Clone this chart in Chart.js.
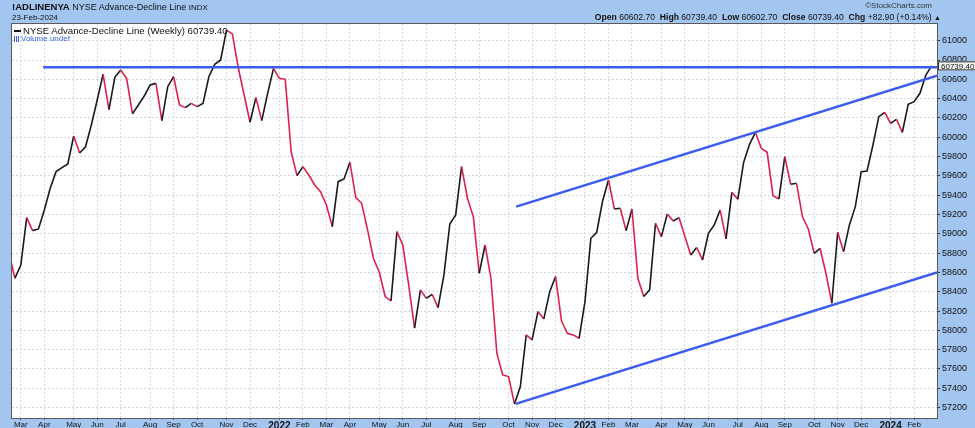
<!DOCTYPE html>
<html>
<head>
<meta charset="utf-8">
<title>NYSE Advance-Decline Line</title>
<script src="https://cdn.jsdelivr.net/npm/chart.js@4.4.1/dist/chart.umd.min.js"></script>
<style>
    body { margin: 0; background: #a3c6f0; }
    #wrap { position: relative; width: 975px; height: 428px; background: #a3c6f0; overflow: hidden;
            font-family: 'Liberation Sans', Arial, sans-serif; color: #111; }
    #chart { position: absolute; left: 0; top: 0; }
    .txt { position: absolute; white-space: nowrap; line-height: 1; }
    .sym { font-weight: bold; font-size: 9.5px; }
    .b { font-weight: bold; }
    .dash { display: inline-block; width: 7px; height: 2px; background: #111; vertical-align: middle; margin-right: 2px; }
    .vol { color: #2f62e8; font-size: 8px; }
    .bars { display: inline-block; width: 6px; height: 6px; margin-right: 1px; vertical-align: -1px;
            background: linear-gradient(90deg, #2f62e8 0 1px, transparent 1px 2px, #2f62e8 2px 3px, transparent 3px 4px, #2f62e8 4px 5px, transparent 5px); }
</style>
</head>
<body>
<div id="wrap">
    <canvas id="chart" width="975" height="428"></canvas>
    <div class="txt" style="left:12px;top:2px;font-size:9px;"><span class="sym">!ADLINENYA</span> NYSE Advance-Decline Line <span style="font-size:8px">INDX</span></div>
    <div class="txt" style="left:12px;top:14px;font-size:8px;">23-Feb-2024</div>
    <div class="txt" style="right:43px;top:2px;font-size:8px;color:#333;">©StockCharts.com</div>
    <div class="txt" style="right:34px;top:13px;font-size:8.6px;"><span class="b">Open</span> 60602.70 &nbsp;<span class="b">High</span> 60739.40 &nbsp;<span class="b">Low</span> 60602.70 &nbsp;<span class="b">Close</span> 60739.40 &nbsp;<span class="b">Chg</span> +82.90 (+0.14%) <span style="font-size:7px">▲</span></div>
    <div class="txt" style="left:14px;top:26px;font-size:9.6px;"><span class="dash"></span>NYSE Advance-Decline Line (Weekly) 60739.40</div>
    <div class="txt vol" style="left:14px;top:35px;"><span class="bars"></span>Volume undef</div>
</div>

<script>
// Données hebdomadaires (clôture du vendredi), première semaine = 19 fév 2021
const firstWeek = Date.UTC(2021, 1, 19);
const adLine = [
    58800, 58539, 58677, 59168, 59033, 59050, 59247, 59471, 59644, 59685,
    59723, 60013, 59837, 59899, 60127, 60386, 60652, 60286, 60621, 60697,
    60610, 60244, 60334, 60427, 60541, 60558, 60172, 60524, 60627, 60334,
    60307, 60351, 60317, 60351, 60627, 60755, 60800, 61110, 61070, 60720,
    60440, 60155, 60410, 60172, 60455, 60714, 60610, 60600, 59851, 59602,
    59696, 59609, 59506, 59437, 59299, 59074, 59540, 59568, 59740, 59375,
    59316, 59040, 58747, 58602, 58350, 58305, 59023, 58884, 58470, 58022,
    58419, 58332, 58374, 58236, 58574, 59102, 59195, 59696, 59368, 59178,
    58591, 58884, 58539, 57763, 57538, 57521, 57238, 57418, 57953, 57901,
    58194, 58118, 58401, 58557, 58098, 57970, 57953, 57918, 58298, 58954,
    59016, 59340, 59558, 59257, 59264, 59033, 59257, 58539, 58350, 58419,
    59109, 58971, 59205, 59133, 59168, 58971, 58781, 58857, 58729, 59005,
    59092, 59247, 58947, 59430, 59357, 59740, 59927, 60051, 59885, 59844,
    59395, 59361, 59799, 59513, 59523, 59178, 59050, 58798, 58850, 58591,
    58281, 59016, 58816, 59092, 59281, 59644, 59650, 59920, 60213, 60258,
    60144, 60186, 60051, 60341, 60369, 60455, 60645, 60739.4
];

// Lignes de tendance tracées sur le graphique : [semaine, valeur]
const resistanceLine = [[5.8, 60725], [157.9, 60725]];
const channelTop = [[86.3, 59281], [157.9, 60637]];
const channelBottom = [[86.2, 57238], [157.9, 58600]];

const monthNames = ['Jan', 'Feb', 'Mar', 'Apr', 'May', 'Jun', 'Jul', 'Aug', 'Sep', 'Oct', 'Nov', 'Dec'];
const yTicks = [57200, 57400, 57600, 57800, 58000, 58200, 58400, 58600, 58800, 59000,
                59200, 59400, 59600, 59800, 60000, 60200, 60400, 60600, 60800, 61000];

const WEEK = 7 * 24 * 3600 * 1000;
const weekDates = adLine.map((v, i) => new Date(firstWeek + i * WEEK));

// premières semaines de chaque mois -> graduations de l'axe X
const monthTicks = [];
weekDates.forEach((d, i) => {
    if (i > 0 && d.getUTCMonth() !== weekDates[i - 1].getUTCMonth()) {
        const m = d.getUTCMonth();
        monthTicks.push({ value: i, label: m === 0 ? String(d.getUTCFullYear()) : monthNames[m], year: m === 0 });
    }
});

const UP = '#1a1a1a';
const DOWN = '#e0204c';
const TREND = '#3b5cf2';
const FONT = "'Liberation Sans', Arial, sans-serif";

const toPoints = (line) => line.map(p => ({ x: p[0], y: p[1] }));

const chartFrame = {
    id: 'chartFrame',
    beforeDraw(chart) {
        const { ctx, chartArea: a } = chart;
        ctx.save();
        ctx.fillStyle = '#ffffff';
        ctx.fillRect(a.left, a.top, a.right - a.left, a.bottom - a.top);
        ctx.restore();
    },
    afterDraw(chart) {
        const { ctx, chartArea: a } = chart;
        ctx.save();
        ctx.strokeStyle = '#5a5a5a';
        ctx.lineWidth = 1;
        ctx.strokeRect(a.left - 0.5, a.top - 0.5, a.right - a.left + 1, a.bottom - a.top + 1);

        // étiquette de la dernière valeur sur l'axe de droite
        const last = adLine[adLine.length - 1];
        const y = chart.scales.y.getPixelForValue(last);
        const x = a.right + 1;
        ctx.fillStyle = '#f4f4f4';
        ctx.fillRect(x, y - 4.5, 40, 9);
        ctx.strokeStyle = '#333';
        ctx.strokeRect(x + 0.5, y - 4, 40, 8);
        ctx.fillStyle = '#111';
        ctx.font = '8px ' + FONT;
        ctx.textBaseline = 'middle';
        ctx.fillText(last.toFixed(2), x + 3, y + 0.5);
        ctx.restore();
    }
};

const trendDataset = (line) => ({
    data: toPoints(line),
    borderColor: TREND,
    borderWidth: 2.5,
    pointRadius: 0,
    fill: false,
    order: 1
});

new Chart(document.getElementById('chart'), {
    type: 'line',
    data: {
        datasets: [
            {
                data: adLine.map((v, i) => ({ x: i, y: v })),
                borderWidth: 1.6,
                pointRadius: 0,
                fill: false,
                tension: 0,
                order: 2,
                segment: {
                    borderColor: ctx => ctx.p1.parsed.y >= ctx.p0.parsed.y ? UP : DOWN
                }
            },
            trendDataset(resistanceLine),
            trendDataset(channelTop),
            trendDataset(channelBottom)
        ]
    },
    options: {
        responsive: false,
        animation: false,
        devicePixelRatio: 1,
        layout: { padding: { left: 12, top: 24, right: 0, bottom: 0 } },
        plugins: {
            legend: { display: false },
            tooltip: { enabled: false }
        },
        scales: {
            x: {
                type: 'linear',
                min: 0.5,
                max: 157.9,
                afterFit: (scale) => { scale.height = 10; },
                afterBuildTicks: (scale) => {
                    scale.ticks = monthTicks.map(t => ({ value: t.value }));
                },
                ticks: {
                    autoSkip: false,
                    maxRotation: 0,
                    padding: 0,
                    color: '#111',
                    font: (ctx) => {
                        const t = monthTicks.find(m => m.value === (ctx.tick && ctx.tick.value));
                        return t && t.year ? { family: FONT, size: 10, weight: 'bold' } : { family: FONT, size: 8 };
                    },
                    callback: (value) => {
                        const t = monthTicks.find(m => m.value === value);
                        return t ? t.label : '';
                    }
                },
                grid: { color: '#d6d6d6', tickColor: '#555', tickLength: 2 },
                border: { display: false, dash: [2, 2] }
            },
            y: {
                position: 'right',
                min: 57092,
                max: 61173,
                afterFit: (scale) => { scale.width = 38; },
                afterBuildTicks: (scale) => {
                    scale.ticks = yTicks.map(v => ({ value: v }));
                },
                ticks: {
                    padding: 2,
                    color: '#111',
                    font: { family: FONT, size: 9 },
                    callback: (value) => String(value)
                },
                grid: { color: '#d6d6d6', tickColor: '#333', tickLength: 3 },
                border: { display: false, dash: [2, 2] }
            }
        }
    },
    plugins: [chartFrame]
});
</script>
</body>
</html>
